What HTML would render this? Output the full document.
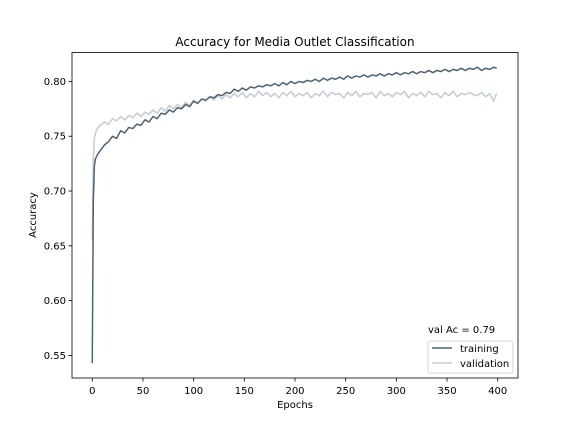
<!DOCTYPE html>
<html><head><meta charset="utf-8"><style>
body{margin:0;background:#fff;}
svg text{font-family:"DejaVu Sans","Liberation Sans",sans-serif;fill:#000;}
</style></head><body>
<svg id="chart" width="576" height="432">
<rect width="576" height="432" fill="#fff"/>
<text x="295" y="46" font-size="12" text-anchor="middle">Accuracy for Media Outlet Classification</text>
<g id="plot"></g>
<rect x="72" y="52.5" width="446" height="325.5" fill="none" stroke="#000" stroke-width="0.8"/>
<g id="xt"></g><g id="yt"></g>
<text x="295" y="408" font-size="10" text-anchor="middle">Epochs</text>
<text x="0" y="0" font-size="10" text-anchor="middle" transform="translate(36,215) rotate(-90)">Accuracy</text>
<text x="428" y="333" font-size="10">val Ac = 0.79</text>
<g>
<rect x="428" y="341" width="85" height="32" rx="2" fill="#fff" fill-opacity="0.8" stroke="#ccc" stroke-width="0.8"/>
<line x1="432" y1="348" x2="452" y2="348" stroke="#4f6272" stroke-width="1.5"/>
<text x="460" y="352" font-size="10">training</text>
<line x1="432" y1="363" x2="452" y2="363" stroke="#c3cbd4" stroke-width="1.5"/>
<text x="460" y="367" font-size="10">validation</text>
</g>
</svg>
<script>
const epochs=[0,1,2,3,4,5,8,12,16,20,24,28,32,36,40,44,48,52,56,60,64,68,72,76,80,84,88,92,96,100,104,108,112,116,120,124,128,132,136,140,144,148,152,156,160,164,168,172,176,180,184,188,192,196,200,204,208,212,216,220,224,228,232,236,240,244,248,252,256,260,264,268,272,276,280,284,288,292,296,300,304,308,312,316,320,324,328,332,336,340,344,348,352,356,360,364,368,372,376,380,384,388,392,396,399];
const training=[.543,.69,.722,.729,.731,.733,.737,.742,.745,.750,.748,.755,.753,.758,.757,.761,.760,.765,.763,.768,.766,.771,.770,.774,.772,.776,.775,.779,.777,.782,.780,.784,.783,.786,.785,.788,.787,.790,.789,.793,.791,.794,.792,.795,.794,.796,.795,.797,.796,.798,.796,.799,.797,.800,.798,.800,.799,.801,.800,.802,.800,.803,.801,.803,.802,.804,.802,.805,.803,.805,.804,.806,.804,.806,.805,.807,.805,.807,.806,.808,.806,.808,.807,.809,.807,.809,.808,.810,.808,.810,.809,.811,.809,.811,.810,.812,.810,.812,.811,.813,.810,.812,.811,.813,.812];
const validation=[.656,.73,.748,.752,.755,.757,.760,.763,.761,.766,.764,.768,.765,.769,.767,.771,.768,.772,.770,.774,.771,.776,.773,.778,.775,.779,.776,.781,.778,.783,.780,.784,.782,.786,.783,.787,.784,.788,.785,.789,.786,.790,.785,.789,.786,.791,.787,.790,.786,.789,.785,.790,.787,.791,.786,.789,.787,.790,.785,.789,.787,.791,.786,.790,.788,.789,.785,.790,.787,.791,.786,.789,.788,.790,.785,.791,.787,.789,.786,.790,.788,.791,.785,.789,.787,.790,.786,.791,.788,.789,.785,.790,.787,.791,.786,.789,.788,.790,.788,.787,.790,.786,.789,.782,.789];
const xTicks=[0,50,100,150,200,250,300,350,400];
const yTicks=[0.55,0.60,0.65,0.70,0.75,0.80];
const NS="http://www.w3.org/2000/svg";
const X0=72,X1=518,Y0=378,Y1=52.5;
const xmin=-20,xmax=420,ymin=0.5294,ymax=0.8264;
function sx(v){return X0+(v-xmin)/(xmax-xmin)*(X1-X0);}
function sy(v){return Y0-(v-ymin)/(ymax-ymin)*(Y0-Y1);}
function el(t,a,p){const e=document.createElementNS(NS,t);for(const k in a)e.setAttribute(k,a[k]);p.appendChild(e);return e;}
const plot=document.getElementById('plot');
function series(vals,color,name){
  const n=Math.min(epochs.length,vals.length);
  let d='';
  for(let i=0;i<n;i++)d+=(i?'L':'M')+sx(epochs[i]).toFixed(2)+' '+sy(vals[i]).toFixed(2);
  const p=el('path',{d:d,fill:'none',stroke:color,'stroke-width':1.5,'stroke-linejoin':'round'},plot);
  
  
}
series(validation,'#c3cbd4','validation-line');
series(training,'#4f6272','training-line');
const xt=document.getElementById('xt');
xTicks.forEach(v=>{
  const x=sx(v);
  const l=el('line',{x1:x,x2:x,y1:Y0,y2:Y0+3.5,stroke:'#000','stroke-width':0.8},xt);
  
  
  const t=el('text',{x:x,y:Y0+16,'font-size':10,'text-anchor':'middle'},xt);
  t.textContent=v;
  
  
});
const yt=document.getElementById('yt');
yTicks.forEach(v=>{
  const y=sy(v);
  const l=el('line',{x1:X0-3.5,x2:X0,y1:y,y2:y,stroke:'#000','stroke-width':0.8},yt);
  
  
  const t=el('text',{x:X0-6,y:y+3.5,'font-size':10,'text-anchor':'end'},yt);
  t.textContent=v.toFixed(2);
  
  
});
</script>
</body></html>
